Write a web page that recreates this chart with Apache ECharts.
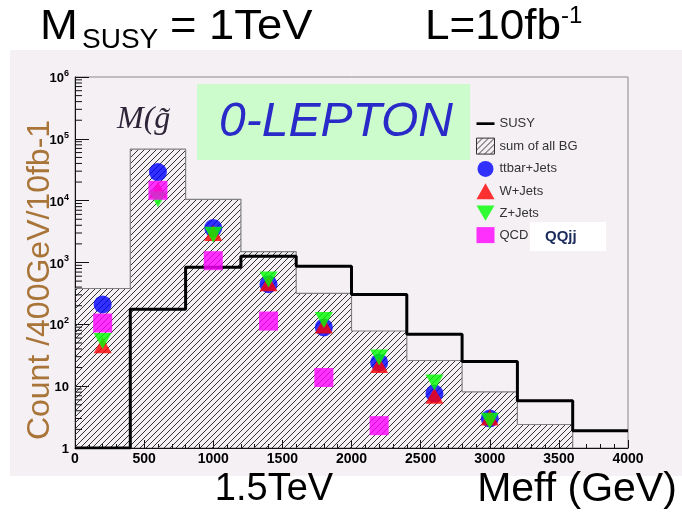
<!DOCTYPE html>
<html>
<head>
<meta charset="utf-8">
<script src="https://cdn.jsdelivr.net/npm/echarts@6/dist/echarts.min.js"></script>
<style>html,body{margin:0;padding:0;background:#fff}#c{width:682px;height:512px}</style>
</head>
<body>
<div id="c"></div>
<script>
// ---- data ----
const binEdges = [0, 400, 800, 1200, 1600, 2000, 2400, 2800, 3200, 3600, 4000];
const bgSum   = [380, 68000, 10500, 1500, 316, 78, 26, 8.1, 2.4, 0];
const susy    = [0, 175, 840, 1260, 870, 305, 69, 25, 5.8, 1.9];
const markerX = [200, 600, 1000, 1400, 1800, 2200, 2600, 3000];
const ttbar   = [210, 29000, 3600, 445, 89, 24, 7.6, 3.0];
const wjets   = [46, 15000, 3000, 460, 96, 22, 7.0, 3.1];
const zjets   = [54, 10500, 2800, 530, 117, 29, 11.5, 2.75];
const qcd     = [105, 14700, 1070, 113, 13.8, 2.3, null, null];
const xTicks  = [0, 500, 1000, 1500, 2000, 2500, 3000, 3500, 4000];
const yDecades = [0, 1, 2, 3, 4, 5, 6];

// ---- hatch pattern ----
const pc = document.createElement('canvas');
pc.width = 6; pc.height = 6;
const g = pc.getContext('2d');
g.strokeStyle = '#333'; g.lineWidth = 1;
g.beginPath();
g.moveTo(0, 6); g.lineTo(6, 0);
g.moveTo(-1, 1); g.lineTo(1, -1);
g.moveTo(5, 7); g.lineTo(7, 5);
g.stroke();
const hatch = { image: pc, repeat: 'repeat' };

const floorV = 1;
const bgRects = bgSum.map((v, i) => [binEdges[i], binEdges[i + 1], v]).filter(d => d[2] > 0);
const bgLine = bgSum.map((v, i) => [binEdges[i], v > 0 ? v : floorV]);
const susyLine = susy.map((v, i) => [binEdges[i], v > 0 ? v : floorV]);
susyLine.push([binEdges[binEdges.length - 1], susy[susy.length - 1]]);
const pts = arr => markerX.map((x, i) => [x, arr[i]]).filter(d => d[1] != null);
const minorVals = [];
yDecades.slice(0, -1).forEach(k => { for (let m = 2; m <= 9; m++) minorVals.push([0, m * Math.pow(10, k)]); });

const downTri = 'path://M0,0 L20,0 L10,17 Z';
const lineIcon = 'path://M0,0 M0,7 L20,7 L20,10 L0,10 Z M20,17';
const FONT = 'Liberation Sans, Arial, sans-serif';
const SANS = '"Liberation Sans", Arial, sans-serif';

const chart = echarts.init(document.getElementById('c'), null, { renderer: 'canvas' });
chart.setOption({
  animation: false,
  backgroundColor: '#ffffff',
  grid: { left: 75, right: 54, top: 77, bottom: 64, show: true, borderColor: '#888', borderWidth: 1, backgroundColor: '#f4f0f4' },
  xAxis: {
    type: 'value', min: 0, max: 4000, interval: 500,
    axisLine: { show: true, onZero: false, lineStyle: { color: '#111', width: 1 } },
    axisTick: { inside: true, length: 8, lineStyle: { color: '#111' } },
    minorTick: { show: true, splitNumber: 5, length: 4, lineStyle: { color: '#111' } },
    splitLine: { show: false },
    axisLabel: { color: '#000', fontWeight: 'bold', fontSize: 14, fontFamily: FONT, margin: 4,
      formatter: v => xTicks.includes(v) ? String(v) : '' }
  },
  yAxis: {
    type: 'log', logBase: 10, min: 1, max: 1e6, splitNumber: 6,
    axisLine: { show: true, lineStyle: { color: '#111', width: 1 } },
    axisTick: { inside: true, length: 14, lineStyle: { color: '#111' } },
    splitLine: { show: false },
    axisLabel: {
      margin: 6, color: '#000', fontFamily: FONT,
      formatter: v => {
        const k = Math.round(Math.log10(v));
        if (k === 0) return '{b|1}';
        if (k === 1) return '{b|10}';
        return '{b|10}{s|' + k + '}';
      },
      rich: {
        b: { fontSize: 13, fontWeight: 'bold', fontFamily: FONT, color: '#000', lineHeight: 16, verticalAlign: 'bottom' },
        s: { fontSize: 9, fontWeight: 'bold', fontFamily: FONT, color: '#000', lineHeight: 16, verticalAlign: 'top', padding: [0, 0, 6, 0] }
      }
    }
  },
  legend: {
    orient: 'vertical', left: 471, top: 111, itemWidth: 18, itemHeight: 16, itemGap: 6.3,
    textStyle: { fontSize: 13, color: '#333', fontFamily: FONT },
    data: [
      { name: 'SUSY', icon: lineIcon, itemStyle: { color: '#000' } },
      { name: 'sum of all BG', icon: 'rect', itemStyle: { color: hatch, borderColor: '#333', borderWidth: 1 } },
      { name: 'ttbar+Jets', icon: 'circle' },
      { name: 'W+Jets', icon: 'triangle' },
      { name: 'Z+Jets', icon: downTri },
      { name: 'QCD', icon: 'rect' }
    ]
  },
  series: [
    {
      name: 'sum of all BG', type: 'custom', z: 1,
      data: bgRects,
      encode: { x: [0, 1], y: 2 },
      itemStyle: { color: hatch },
      renderItem: (params, api) => {
        const p0 = api.coord([api.value(0), api.value(2)]);
        const p1 = api.coord([api.value(1), floorV]);
        return { type: 'rect', shape: { x: p0[0], y: p0[1], width: p1[0] - p0[0], height: p1[1] - p0[1] },
          style: { fill: hatch } };
      }
    },
    {
      name: 'bgOutline', type: 'line', step: 'end', z: 2, data: bgLine, symbol: 'none',
      lineStyle: { color: '#808080', width: 1.2 }, silent: true
    },
    {
      name: 'yMinor', type: 'custom', z: 3, data: minorVals, encode: { x: 0, y: 1 }, silent: true,
      renderItem: (params, api) => {
        const p = api.coord([0, api.value(1)]);
        return { type: 'line', shape: { x1: p[0], y1: p[1], x2: p[0] + 7, y2: p[1] }, style: { stroke: '#111', lineWidth: 1 } };
      }
    },
    {
      name: 'SUSY', type: 'line', step: 'end', z: 4, data: susyLine, symbol: 'none', showSymbol: false,
      color: '#000', lineStyle: { color: '#000', width: 3 }
    },
    { name: 'ttbar+Jets', type: 'scatter', z: 5, data: pts(ttbar), symbol: 'circle', symbolSize: 18, color: '#0000ff', itemStyle: { color: '#0000ff' } },
    { name: 'W+Jets', type: 'scatter', z: 6, data: pts(wjets), symbol: 'triangle', symbolSize: [18, 16], color: '#ff0000', itemStyle: { color: '#ff0000' } },
    { name: 'Z+Jets', type: 'scatter', z: 7, data: pts(zjets), symbol: downTri, symbolSize: [18, 16], color: '#00ff00', itemStyle: { color: '#00ff00' } },
    { name: 'QCD', type: 'scatter', z: 8, data: pts(qcd), symbol: 'rect', symbolSize: 19, color: '#ff00ff', itemStyle: { color: '#ff00ff' } }
  ],
  graphic: [
    { type: 'rect', z: -10, shape: { x: 10, y: 50, width: 672, height: 426 }, style: { fill: '#f4f0f4' } },
    { type: 'text', z: 10, x: 117, y: 120, style: { text: 'M(g\u0303', font: 'italic 32px "Liberation Serif", "DejaVu Serif", serif', fill: '#2e2638', verticalAlign: 'middle' } },
    { type: 'rect', z: 20, shape: { x: 197, y: 84, width: 273, height: 76 }, style: { fill: '#ccfccc' } },
    { type: 'text', z: 21, x: 336, y: 123, style: { text: '0-LEPTON', font: 'italic 48px ' + SANS, fill: '#2a2ac8', align: 'center', verticalAlign: 'middle',
      shadowColor: '#000', shadowOffsetX: 2, shadowOffsetY: 2, shadowBlur: 0 } },
    { type: 'rect', z: 20, shape: { x: 530, y: 222, width: 76, height: 29 }, style: { fill: '#ffffff' } },
    { type: 'text', z: 21, x: 545, y: 237, style: { text: 'QQjj', font: 'bold 15px ' + SANS, fill: '#1a2a5a', verticalAlign: 'middle' } },
    // top title
    { type: 'text', z: 30, x: 40, y: 27, scaleX: 1.08, style: { text: 'M', font: '42px ' + SANS, fill: '#000', verticalAlign: 'middle' } },
    { type: 'text', z: 30, x: 82, y: 40, style: { text: 'SUSY', font: '28px ' + SANS, fill: '#000', verticalAlign: 'middle' } },
    { type: 'text', z: 30, x: 170, y: 27, scaleX: 1.08, style: { text: '= 1TeV', font: '42px ' + SANS, fill: '#000', verticalAlign: 'middle' } },
    { type: 'text', z: 30, x: 425, y: 27, scaleX: 1.05, style: { text: 'L=10fb', font: '42px ' + SANS, fill: '#000', verticalAlign: 'middle' } },
    { type: 'text', z: 30, x: 561, y: 16, style: { text: '-1', font: '24px ' + SANS, fill: '#000', verticalAlign: 'middle' } },
    // bottom texts
    { type: 'text', z: 30, x: 274, y: 490, style: { text: '1.5TeV', font: '38px ' + SANS, fill: '#000', align: 'center', verticalAlign: 'middle' } },
    { type: 'text', z: 30, x: 577, y: 490, style: { text: 'Meff (GeV)', font: '41px ' + SANS, fill: '#000', align: 'center', verticalAlign: 'middle' } },
    // y title
    { type: 'text', z: 30, x: 40, y: 280, rotation: Math.PI / 2, style: { text: 'Count /400GeV/10fb-1', font: '32px ' + SANS, fill: '#a87438', align: 'center', verticalAlign: 'middle',
      shadowColor: '#30307a', shadowOffsetX: -1, shadowOffsetY: 0, shadowBlur: 0 } }
  ]
});
</script>
</body>
</html>
